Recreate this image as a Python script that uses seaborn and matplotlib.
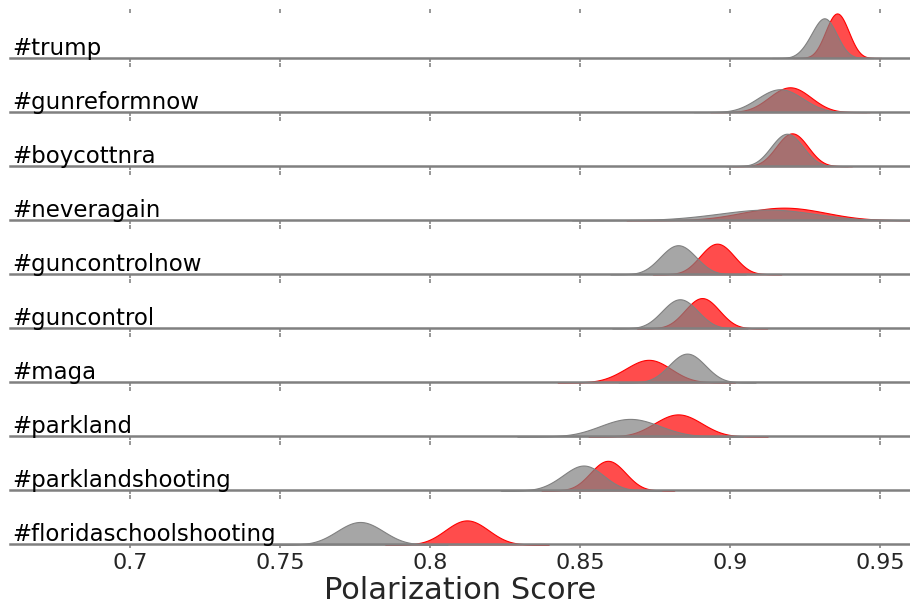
import matplotlib
matplotlib.use("Agg")
import matplotlib.pyplot as plt
import seaborn as sns

sns.set_theme(style="white")
plt.rcParams["font.family"] = ["DejaVu Sans"]

# Hashtags, top to bottom
tags = ["#trump", "#gunreformnow", "#boycottnra", "#neveragain", "#guncontrolnow",
        "#guncontrol", "#maga", "#parkland", "#parklandshooting", "#floridaschoolshooting"]

# Polarization scores per hashtag, red group
red_scores = [
    [0.9317, 0.9336, 0.9349, 0.9357, 0.9365, 0.9378, 0.9397],
    [0.9128, 0.9162, 0.9186, 0.9200, 0.9214, 0.9238, 0.9272],
    [0.9153, 0.9178, 0.9196, 0.9207, 0.9218, 0.9236, 0.9261],
    [0.9038, 0.9104, 0.9152, 0.9180, 0.9208, 0.9256, 0.9322],
    [0.8899, 0.8926, 0.8945, 0.8957, 0.8969, 0.8988, 0.9015],
    [0.8848, 0.8876, 0.8895, 0.8907, 0.8919, 0.8938, 0.8966],
    [0.8640, 0.8687, 0.8712, 0.8727, 0.8742, 0.8767, 0.8802],
    [0.8746, 0.8784, 0.8811, 0.8827, 0.8843, 0.8870, 0.8908],
    [0.8533, 0.8561, 0.8581, 0.8593, 0.8605, 0.8625, 0.8653],
    [0.8049, 0.8084, 0.8108, 0.8123, 0.8138, 0.8162, 0.8197],
]

# Polarization scores per hashtag, grey group
grey_scores = [
    [0.9262, 0.9291, 0.9305, 0.9313, 0.9321, 0.9335, 0.9355],
    [0.9089, 0.9126, 0.9151, 0.9167, 0.9183, 0.9208, 0.9245],
    [0.9135, 0.9161, 0.9179, 0.9190, 0.9201, 0.9219, 0.9245],
    [0.8930, 0.9037, 0.9089, 0.9120, 0.9151, 0.9203, 0.9276],
    [0.8766, 0.8794, 0.8815, 0.8827, 0.8839, 0.8860, 0.8888],
    [0.8772, 0.8800, 0.8821, 0.8833, 0.8845, 0.8866, 0.8894],
    [0.8795, 0.8824, 0.8845, 0.8857, 0.8869, 0.8890, 0.8919],
    [0.8565, 0.8613, 0.8647, 0.8667, 0.8687, 0.8721, 0.8769],
    [0.8430, 0.8474, 0.8497, 0.8510, 0.8523, 0.8546, 0.8577],
    [0.7688, 0.7725, 0.7751, 0.7767, 0.7783, 0.7809, 0.7846],
]

xticks = [0.7, 0.75, 0.8, 0.85, 0.9, 0.95]
xtick_labels = ["0.7", "0.75", "0.8", "0.85", "0.9", "0.95"]

W, H = 910, 609
fig = plt.figure(figsize=(W / 100, H / 100), dpi=100)

row_h = 45
first_base = 58
step = 54.05
base_col = "#808080"
kde_kw = dict(fill=True, alpha=0.7, linewidth=0.8, bw_adjust=1.5, cut=4,
              gridsize=400, clip_on=False)

for i, tag in enumerate(tags):
    base = first_base + i * step
    ax = fig.add_axes([10 / W, (H - base) / H, 900 / W, row_h / H])
    sns.kdeplot(x=red_scores[i], ax=ax, color="red", **kde_kw)
    sns.kdeplot(x=grey_scores[i], ax=ax, color="grey", **kde_kw)
    ax.set_xlim(0.66, 0.96)
    ax.set_ylim(0, 108)
    ax.set_yticks([])
    ax.set_ylabel("")
    ax.set_xlabel("")
    for side in ("left", "right", "top"):
        ax.spines[side].set_visible(False)
    # baseline drawn over the fills so their bottom edges stay hidden
    ax.spines["bottom"].set_color(base_col)
    ax.spines["bottom"].set_linewidth(1.8)
    ax.spines["bottom"].set_zorder(3)
    ax.patch.set_alpha(0)
    ax.set_xticks(xticks)
    ax.tick_params(axis="x", which="both", bottom=True, top=True, direction="out",
                   length=3.2, width=1.1, color="#7a7a7a",
                   labelbottom=(i == len(tags) - 1), labelsize=16,
                   labelcolor="#262626", pad=3)
    if i == len(tags) - 1:
        ax.set_xticklabels(xtick_labels)
        ax.set_xlabel("Polarization Score", fontsize=22, color="#262626", labelpad=2)
    ax.text(0.002, 3 / row_h, tag, transform=ax.transAxes, fontsize=16.5,
            color="black", ha="left", va="baseline", zorder=5)

fig.savefig("out.png", dpi=100)
